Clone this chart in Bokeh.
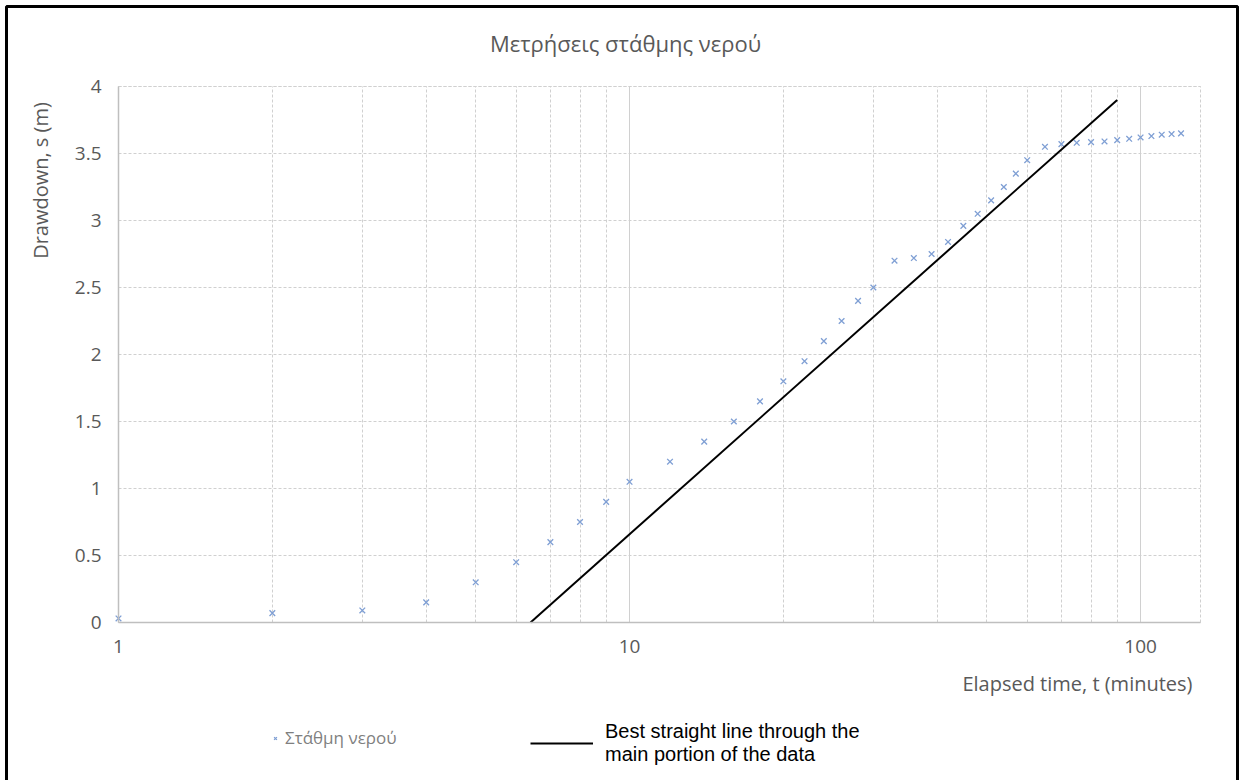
import math
from bokeh.plotting import figure
from bokeh.models import (FixedTicker, Label, Legend, LegendItem, Range1d, ColumnDataSource,
                          Grid, BoxAnnotation)
from bokeh.embed import file_html
from bokeh.resources import INLINE

# ---- data ----
time_min = [1, 2, 3, 4, 5, 6, 7, 8, 9, 10, 12, 14, 16, 18, 20, 22, 24, 26, 28, 30,
            33, 36, 39, 42, 45, 48, 51, 54, 57, 60, 65, 70, 75, 80, 85, 90, 95, 100,
            105, 110, 115, 120]
drawdown_m = [0.03, 0.07, 0.09, 0.15, 0.30, 0.45, 0.60, 0.75, 0.90, 1.05, 1.20, 1.35,
              1.50, 1.65, 1.80, 1.95, 2.10, 2.25, 2.40, 2.50, 2.70, 2.72, 2.75, 2.84,
              2.96, 3.05, 3.15, 3.25, 3.35, 3.45, 3.55, 3.57, 3.58, 3.585, 3.59, 3.60,
              3.61, 3.62, 3.63, 3.64, 3.645, 3.65]
fit_time = [6.4, 90]
fit_drawdown = [0.0, 3.9]

x_ticks = [1, 10, 100]
x_tick_labels = ["1", "10", "100"]
x_minor = [2, 3, 4, 5, 6, 7, 8, 9, 20, 30, 40, 50, 60, 70, 80, 90]
y_ticks = [0, 0.5, 1, 1.5, 2, 2.5, 3, 3.5, 4]
y_tick_labels = ["0", "0.5", "1", "1.5", "2", "2.5", "3", "3.5", "4"]
X_MIN, X_MAX = 1, 131
Y_MIN, Y_MAX = 0, 4

title_text = "Μετρήσεις στάθμης νερού"
series_name = "Στάθμη νερού"
fit_name = "Best straight line through the\nmain portion of the data"
x_label = "Elapsed time, t (minutes)"
y_label = "Drawdown, s (m)"

# ---- layout (pixels on the canvas) ----
W, H = 1242, 780
PX_L, PX_R, PX_T, PX_B = 118, 1200, 86, 622
GREY = "#595959"
GRID = "#D0D0D0"
FONT = "Open Sans"

# data ranges chosen so that the plot area sits at PX_L..PX_R / PX_T..PX_B
dec = (PX_R - PX_L) / math.log10(X_MAX / X_MIN)
x_start = X_MIN * 10 ** (-PX_L / dec)
x_end = X_MIN * 10 ** ((W - PX_L) / dec)
unit = (PX_B - PX_T) / (Y_MAX - Y_MIN)
y_start = Y_MIN - (H - PX_B) / unit
y_end = Y_MIN + PX_B / unit

p = figure(width=W, height=H, x_axis_type="log",
           x_range=Range1d(x_start, x_end), y_range=Range1d(y_start, y_end),
           output_backend="svg", toolbar_location=None, title=None,
           min_border=0, min_border_left=0, min_border_right=0,
           min_border_top=0, min_border_bottom=0)
p.background_fill_color = "white"
p.border_fill_color = "white"
p.outline_line_color = None

xt = FixedTicker(ticks=x_ticks, minor_ticks=x_minor)
yt = FixedTicker(ticks=y_ticks)
p.xaxis.ticker = xt
p.xgrid.ticker = xt
p.yaxis.ticker = yt
p.ygrid.ticker = yt
p.xaxis.major_label_overrides = dict(zip(x_ticks, x_tick_labels))
p.yaxis.major_label_overrides = dict(zip(y_ticks, y_tick_labels))
p.xaxis.fixed_location = Y_MIN
p.yaxis.fixed_location = X_MIN
p.xaxis.bounds = (X_MIN, X_MAX)
p.yaxis.bounds = (Y_MIN, Y_MAX)

for ax in (p.xaxis[0], p.yaxis[0]):
    ax.axis_line_color = "#BFBFBF"
    ax.axis_line_width = 1.5
    ax.major_tick_line_color = None
    ax.minor_tick_line_color = None
    ax.major_tick_out = 0
    ax.major_tick_in = 0
    ax.minor_tick_out = 0
    ax.minor_tick_in = 0
    ax.major_label_text_color = GREY
    ax.major_label_text_font = FONT
    ax.major_label_text_font_size = "19px"
p.yaxis.major_label_standoff = 17
p.xaxis.major_label_standoff = 17

p.xgrid.grid_line_color = GRID
p.xgrid.minor_grid_line_color = GRID
p.xgrid.minor_grid_line_dash = "3 2"
p.ygrid.grid_line_color = GRID
p.ygrid.grid_line_dash = "3 2"
if "cross_bounds" in Grid.properties():
    p.xgrid.cross_bounds = (Y_MIN, Y_MAX)
    p.ygrid.cross_bounds = (X_MIN, X_MAX)
else:
    p.xgrid.visible = False
    p.ygrid.visible = False
    p.segment(x0=x_ticks, x1=x_ticks, y0=[Y_MIN] * len(x_ticks), y1=[Y_MAX] * len(x_ticks),
              line_color=GRID)
    p.segment(x0=x_minor, x1=x_minor, y0=[Y_MIN] * len(x_minor), y1=[Y_MAX] * len(x_minor),
              line_color=GRID, line_dash="3 2")
    p.segment(x0=[X_MIN] * len(y_ticks), x1=[X_MAX] * len(y_ticks), y0=y_ticks, y1=y_ticks,
              line_color=GRID, line_dash="3 2")

# dashed plot-area border
p.quad(left=[X_MIN], right=[X_MAX], bottom=[Y_MIN], top=[Y_MAX], fill_color=None,
       line_color=GRID, line_dash="3 2")

src = ColumnDataSource(dict(t=time_min, s=drawdown_m))
r_sc = p.scatter("t", "s", source=src, marker="x", size=8,
                 line_color="#7F9FD4", line_width=1.3)
fit_src = ColumnDataSource(dict(t=fit_time, s=fit_drawdown))
r_line = p.line("t", "s", source=fit_src, line_color="black", line_width=2)

def up(y_top):
    return H - y_top

# black chart-area frame
p.add_layout(BoxAnnotation(left=6, right=1237, top=up(6), bottom=-20,
                           left_units="screen", right_units="screen",
                           top_units="screen", bottom_units="screen",
                           fill_alpha=0, line_color="black", line_width=3,
                           line_alpha=1.0, level="overlay"))

p.add_layout(Label(x=625, y=up(42), x_units="screen", y_units="screen", text=title_text,
                   text_align="center", text_baseline="middle", text_font=FONT,
                   text_font_size="22px", text_color=GREY))
p.add_layout(Label(x=40, y=up(180), x_units="screen", y_units="screen", text=y_label,
                   angle=math.pi / 2, text_align="center", text_baseline="middle",
                   text_font=FONT, text_font_size="20px", text_color=GREY))
p.add_layout(Label(x=1192, y=up(683), x_units="screen", y_units="screen", text=x_label,
                   text_align="right", text_baseline="middle", text_font=FONT,
                   text_font_size="20px", text_color=GREY))

leg1 = Legend(items=[LegendItem(label=series_name, renderers=[r_sc])],
              location=(270, up(749)), glyph_width=10, glyph_height=10,
              label_standoff=5, padding=0, margin=0, border_line_color=None,
              background_fill_alpha=0, label_text_font=FONT,
              label_text_font_size="17px", label_text_color="#7F7F7F")
leg2 = Legend(items=[LegendItem(label=fit_name, renderers=[r_line])],
              location=(530, up(766)), glyph_width=63, glyph_height=20,
              label_standoff=12, padding=0, margin=0, border_line_color=None,
              background_fill_alpha=0, label_text_font="Liberation Sans",
              label_text_font_size="20px", label_text_line_height=1.1,
              label_text_color="black")
p.add_layout(leg1)
p.add_layout(leg2)

open("out.html", "w").write(file_html(p, INLINE))
